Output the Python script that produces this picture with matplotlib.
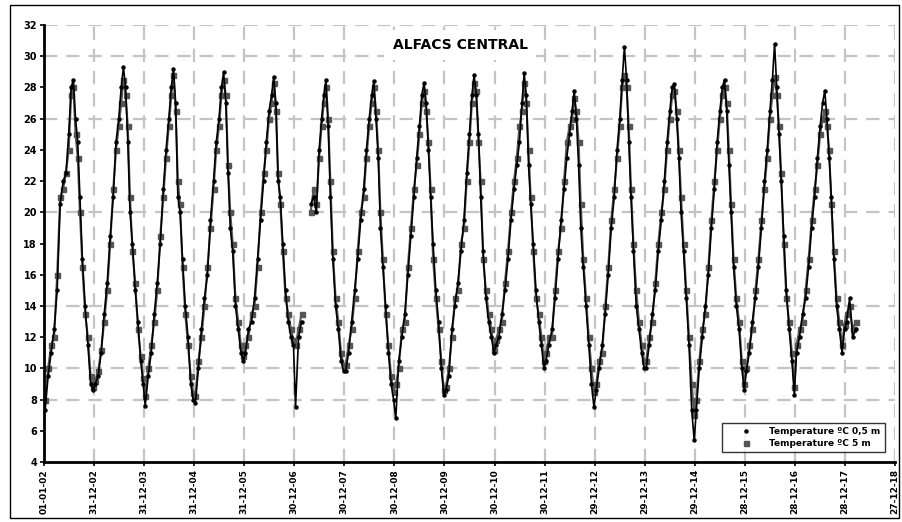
import numpy as np
import pandas as pd
import matplotlib
matplotlib.use("Agg")
import matplotlib.pyplot as plt
from matplotlib.patches import Rectangle

nan = np.nan
title = "ALFACS CENTRAL"
series_labels = ["Temperature ºC 0,5 m", "Temperature ºC 5 m"]
tick_labels = ["01-01-02", "31-12-02", "31-12-03", "31-12-04", "31-12-05", "30-12-06",
               "30-12-07", "30-12-08", "30-12-09", "30-12-10", "30-12-11", "29-12-12",
               "29-12-13", "29-12-14", "28-12-15", "28-12-16", "28-12-17", "27-12-18"]
y_ticks = [4, 6, 8, 10, 12, 14, 16, 18, 20, 22, 24, 26, 28, 30, 32]
grid_y = [8, 10, 14, 20, 26, 30, 32]

sample_doy = [8, 30, 52, 74, 96, 118, 140, 160, 180, 198, 214, 230, 246, 262, 280, 300, 320, 340, 358]

temp_05m = {
    2002: [7.3, 9.5, 11.0, 12.5, 15.0, 20.5, 22.0, 22.5, 25.0, 28.0, 28.5, 26.0, 24.5, 21.0, 17.0, 14.0, 11.5, 9.0, 8.6],
    2003: [9.0, 9.5, 11.0, 13.5, 15.5, 18.5, 21.0, 24.5, 26.0, 28.0, 29.3, 28.0, 24.5, 20.0, 18.0, 15.0, 13.0, 10.5, 9.0],
    2004: [7.6, 9.5, 11.0, 13.5, 15.5, 18.0, 21.5, 24.0, 26.0, 28.0, 29.2, 27.0, 21.0, 20.0, 17.0, 14.0, 12.0, 9.0, 8.0],
    2005: [7.8, 10.0, 12.5, 14.5, 16.0, 19.5, 22.0, 24.5, 26.0, 28.0, 29.0, 27.0, 22.5, 19.0, 17.5, 14.0, 12.5, 11.0, 10.5],
    2006: [11.0, 12.5, 13.0, 14.5, 17.0, 19.5, 22.0, 24.5, 26.5, 27.5, 28.7, 27.0, 22.0, 21.0, 18.0, 15.0, 13.0, 12.0, 11.5],
    2007: [7.5, 12.0, 13.0, nan, nan, 20.5, 21.0, 20.0, 24.0, 26.0, 27.5, 28.5, 25.5, 21.0, 17.0, 14.0, 12.5, 10.5, 9.8],
    2008: [9.8, 11.0, 13.0, 15.0, 17.0, 19.5, 21.5, 24.0, 26.0, 27.5, 28.4, 26.0, 23.5, 19.0, 16.5, 14.0, 11.0, 9.0, 8.0],
    2009: [6.8, 10.5, 12.0, 13.5, 16.0, 18.5, 21.0, 23.5, 25.5, 27.5, 28.3, 27.0, 24.0, 21.0, 18.0, 15.0, 13.0, 10.0, 8.3],
    2010: [8.6, 9.5, 12.5, 14.0, 15.5, 17.5, 19.5, 22.5, 25.0, 27.5, 28.8, 27.5, 25.0, 21.0, 17.5, 14.5, 13.0, 12.0, 11.0],
    2011: [11.5, 12.0, 13.5, 15.0, 17.0, 19.5, 21.5, 23.0, 24.5, 27.0, 28.9, 27.5, 23.0, 20.5, 18.0, 15.0, 13.0, 11.5, 10.0],
    2012: [10.5, 11.5, 12.5, 14.5, 17.0, 19.5, 21.5, 23.5, 25.0, 26.5, 27.8, 26.0, 23.0, 19.0, 16.5, 14.0, 11.5, 9.0, 7.5],
    2013: [8.6, 10.0, 11.5, 13.5, 16.0, 19.0, 21.0, 24.0, 26.0, 28.5, 30.6, 28.5, 24.5, 21.0, 17.5, 14.0, 12.5, 11.0, 10.0],
    2014: [10.0, 11.5, 13.5, 15.0, 17.5, 19.5, 22.0, 24.5, 26.5, 28.0, 28.2, 26.0, 23.5, 20.0, 17.5, 14.5, 11.5, 7.3, 5.4],
    2015: [7.3, 10.0, 12.0, 14.0, 16.0, 19.0, 21.5, 24.5, 26.5, 28.0, 28.5, 26.5, 23.0, 20.0, 16.5, 14.0, 12.5, 10.0, 8.6],
    2016: [9.8, 11.0, 13.0, 14.5, 16.5, 19.0, 22.0, 24.0, 26.5, 28.5, 30.8, 28.0, 25.0, 22.0, 18.5, 15.0, 12.5, 10.5, 8.3],
    2017: [11.0, 12.0, 13.5, 14.5, 16.5, 19.0, 21.0, 23.5, 25.5, 27.0, 27.8, 26.0, 23.5, 21.0, 17.0, 14.0, 12.5, 11.0, 12.5],
    2018: [13.0, 14.5, 12.0, 12.5],
}
temp_5m = {
    2002: [8.0, 10.0, 11.5, 12.0, 16.0, 21.0, 21.5, 22.5, 24.0, 27.5, 28.0, 25.0, 23.5, 20.0, 16.5, 13.5, 12.0, 9.5, 8.8],
    2003: [9.2, 9.8, 11.2, 13.0, 15.0, 18.0, 21.5, 24.0, 25.5, 27.0, 28.5, 27.5, 25.5, 21.0, 17.5, 15.5, 12.5, 10.8, 9.4],
    2004: [8.2, 10.0, 11.5, 13.0, 15.0, 18.5, 21.0, 23.5, 25.5, 27.5, 28.8, 26.5, 22.0, 20.5, 16.5, 13.5, 11.5, 9.5, 8.4],
    2005: [8.2, 10.5, 12.0, 14.0, 16.5, 19.0, 21.5, 24.0, 25.5, 27.5, 28.5, 27.5, 23.0, 20.0, 18.0, 14.5, 13.0, 11.5, 10.8],
    2006: [11.5, 12.0, 13.5, 14.0, 16.5, 20.0, 22.5, 24.0, 26.0, 27.0, 28.3, 26.5, 22.5, 20.5, 17.5, 14.5, 13.5, 12.5, 11.8],
    2007: [11.5, 12.5, 13.5, nan, nan, 20.0, 21.5, 20.5, 23.5, 25.5, 27.0, 28.0, 26.0, 22.0, 17.5, 14.5, 13.0, 11.0, 10.2],
    2008: [10.2, 11.5, 12.5, 14.5, 17.5, 20.0, 21.0, 23.5, 25.5, 27.0, 28.0, 26.5, 24.0, 20.0, 17.0, 13.5, 11.5, 9.5, 8.5],
    2009: [9.0, 10.0, 12.5, 13.0, 16.5, 19.0, 21.5, 23.0, 25.0, 27.0, 27.8, 26.5, 24.5, 21.5, 17.0, 14.5, 12.5, 10.5, 8.6],
    2010: [8.8, 10.0, 12.0, 14.5, 15.0, 18.0, 19.0, 22.0, 24.5, 27.0, 28.3, 27.8, 24.5, 22.0, 17.0, 15.0, 13.5, 12.5, 11.2],
    2011: [11.8, 12.5, 13.0, 15.5, 17.5, 20.0, 22.0, 23.5, 25.5, 26.5, 28.3, 27.0, 24.0, 21.0, 17.5, 14.5, 13.5, 12.0, 10.5],
    2012: [11.0, 12.0, 12.0, 15.0, 17.5, 19.0, 22.0, 24.5, 25.5, 26.0, 27.3, 26.5, 24.5, 20.5, 17.0, 14.5, 12.0, 10.0, 8.5],
    2013: [9.0, 10.5, 11.0, 14.0, 16.5, 19.5, 21.5, 23.5, 25.5, 28.0, 28.8, 28.0, 25.5, 21.5, 18.0, 15.0, 13.0, 11.5, 10.5],
    2014: [10.5, 12.0, 13.0, 15.5, 18.0, 20.0, 21.5, 24.0, 26.0, 27.5, 27.8, 26.5, 24.0, 21.0, 18.0, 15.0, 12.0, 9.0, 7.0],
    2015: [8.0, 10.5, 12.5, 13.5, 16.5, 19.5, 22.0, 24.0, 26.0, 27.5, 28.0, 27.0, 24.0, 20.5, 17.0, 14.5, 13.0, 10.5, 9.0],
    2016: [10.0, 11.5, 12.5, 15.0, 17.0, 19.5, 21.5, 23.5, 26.0, 27.5, 28.7, 27.5, 25.5, 22.5, 18.0, 14.5, 13.0, 11.0, 8.8],
    2017: [11.5, 12.5, 13.0, 15.0, 17.0, 19.5, 21.5, 23.0, 25.0, 26.0, 26.5, 25.5, 24.0, 20.5, 17.5, 14.5, 13.0, 11.5, 12.8],
    2018: [13.5, 14.0, 12.5, 13.0],
}


def build(series):
    xs, ys = [], []
    for yr, vals in series.items():
        for d, v in zip(sample_doy, vals):
            xs.append(pd.Timestamp(yr, 1, 1) + pd.Timedelta(days=d))
            ys.append(v)
    return xs, ys


x1, y1 = build(temp_05m)
x2, y2 = build(temp_5m)

fig = plt.figure(figsize=(9.03, 5.22), dpi=100)
ax = fig.add_axes([44 / 903, 1 - 462 / 522, 851 / 903, 437 / 522])

start = pd.Timestamp(2002, 1, 1)
tick_pos = [start + pd.Timedelta(days=365 * k) for k in range(len(tick_labels))]

grid_kw = dict(color="#c4c4c4", lw=1.6, ls=(0, (6, 4)), zorder=0)
for gy in grid_y:
    ax.axhline(gy, **grid_kw)
for tp in tick_pos[1:]:
    ax.axvline(tp, **grid_kw)

ax.plot(x2, y2, color="#555555", lw=1.5, marker="s", ms=3.6, mec="#555555",
        mfc="#555555", label=series_labels[1], zorder=2)
ax.plot(x1, y1, color="black", lw=1.2, marker="o", ms=2.2, mec="black",
        mfc="black", label=series_labels[0], zorder=3)

ax.set_xlim(start, tick_pos[-1])
ax.set_ylim(4, 32)
ax.set_yticks(y_ticks)
ax.set_yticklabels([str(v) for v in y_ticks], fontsize=7, fontweight="bold")
ax.set_xticks(tick_pos)
ax.set_xticklabels(tick_labels, rotation=90, fontsize=6.5, fontweight="bold")
ax.tick_params(axis="both", direction="out", length=3, width=1.2, pad=2)

for s in ["top", "right"]:
    ax.spines[s].set_visible(False)
for s in ["left", "bottom"]:
    ax.spines[s].set_linewidth(2)

ax.text(0.489, 0.954, title, transform=ax.transAxes, ha="center", va="center",
        fontsize=10, fontweight="bold",
        bbox=dict(facecolor="white", edgecolor="none", pad=6), zorder=4)

handles, labels = ax.get_legend_handles_labels()
leg = ax.legend(handles[::-1], labels[::-1], loc="lower right",
                bbox_to_anchor=(0.988, 0.023), frameon=True,
                fancybox=False, edgecolor="black", handlelength=4.5,
                handletextpad=0.3, borderpad=0.45, labelspacing=0.35,
                borderaxespad=0.0, prop={"size": 6.5, "weight": "bold"})
leg.get_frame().set_linewidth(1.0)
for line in leg.get_lines():
    line.set_linestyle("none")
leg.set_zorder(5)

fig.add_artist(Rectangle((10 / 903, 4 / 522), 889 / 903, 513 / 522,
                         transform=fig.transFigure, fill=False,
                         edgecolor="black", lw=1.0))

fig.savefig("out.png", dpi=100)
